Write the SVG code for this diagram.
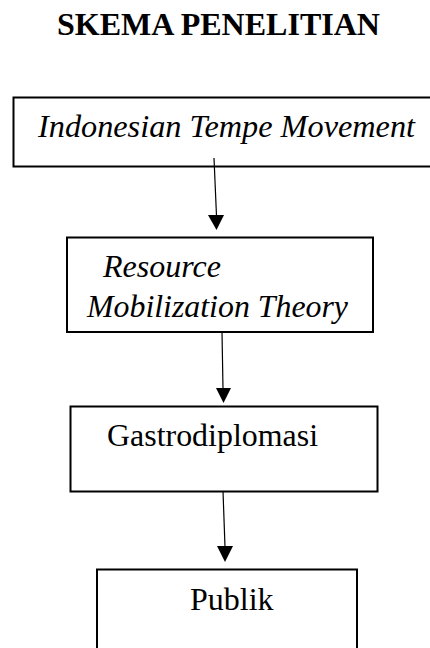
<svg xmlns="http://www.w3.org/2000/svg" width="430" height="648" viewBox="0 0 430 648">
<defs>
<style>
.box{fill:#fff;stroke:#000;stroke-width:2}
.t{font-family:"Liberation Serif","Times New Roman",serif;fill:#000;font-size:32px}
.it{font-style:italic}
.ln{stroke:#000;stroke-width:1.2;fill:none}
.ah{fill:#000}
</style>
</defs>
<rect width="430" height="648" fill="#fff"/>
<text class="t" x="57" y="35" font-weight="bold" textLength="323" lengthAdjust="spacingAndGlyphs">SKEMA PENELITIAN</text>
<g id="n1">
<rect class="box" x="13.5" y="97.5" width="425" height="69"/>
<text class="t it" x="38" y="137" textLength="377" lengthAdjust="spacingAndGlyphs">Indonesian Tempe Movement</text>
</g>
<g id="n2">
<rect class="box" x="67" y="237.5" width="306" height="94.5"/>
<text class="t it" x="103" y="277">Resource</text>
<text class="t it" x="87" y="317" textLength="261" lengthAdjust="spacingAndGlyphs">Mobilization Theory</text>
</g>
<g id="n3">
<rect class="box" x="70.5" y="406.5" width="307" height="85"/>
<text class="t" x="107" y="446" textLength="211" lengthAdjust="spacingAndGlyphs">Gastrodiplomasi</text>
</g>
<g id="n4">
<rect class="box" x="97" y="569.5" width="260" height="90"/>
<text class="t" x="190" y="610">Publik</text>
</g>
<g id="connectors">
<line class="ln" x1="214" y1="158" x2="216.5" y2="216"/>
<path class="ah" d="M208,215 L224,215 L216.5,230 Z"/>
<line class="ln" x1="222" y1="332" x2="223" y2="389"/>
<path class="ah" d="M216,388 L231,388 L223.5,403 Z"/>
<line class="ln" x1="223" y1="491" x2="225" y2="547"/>
<path class="ah" d="M217,546 L233,546 L225,562 Z"/>
</g>
</svg>
